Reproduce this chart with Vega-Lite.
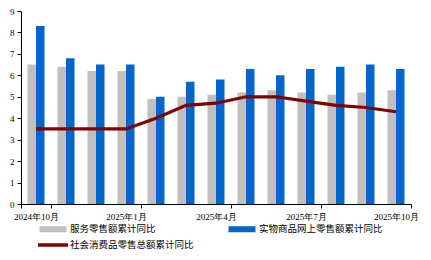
{
  "$schema": "https://vega.github.io/schema/vega-lite/v6.json",
  "width": 390,
  "height": 193,
  "autosize": {"type": "none"},
  "padding": {"left": 21, "top": 11, "right": 20, "bottom": 56},
  "background": "white",
  "config": {"view": {"stroke": null}},
  "data": {"values": [
    {"month": "2024年10月", "series": "服务零售额累计同比", "value": 6.5},
    {"month": "2024年11月", "series": "服务零售额累计同比", "value": 6.4},
    {"month": "2024年12月", "series": "服务零售额累计同比", "value": 6.2},
    {"month": "2025年1月", "series": "服务零售额累计同比", "value": 6.2},
    {"month": "2025年2月", "series": "服务零售额累计同比", "value": 4.9},
    {"month": "2025年3月", "series": "服务零售额累计同比", "value": 5.0},
    {"month": "2025年4月", "series": "服务零售额累计同比", "value": 5.1},
    {"month": "2025年5月", "series": "服务零售额累计同比", "value": 5.2},
    {"month": "2025年6月", "series": "服务零售额累计同比", "value": 5.3},
    {"month": "2025年7月", "series": "服务零售额累计同比", "value": 5.2},
    {"month": "2025年8月", "series": "服务零售额累计同比", "value": 5.1},
    {"month": "2025年9月", "series": "服务零售额累计同比", "value": 5.2},
    {"month": "2025年10月", "series": "服务零售额累计同比", "value": 5.3},
    {"month": "2024年10月", "series": "实物商品网上零售额累计同比", "value": 8.3},
    {"month": "2024年11月", "series": "实物商品网上零售额累计同比", "value": 6.8},
    {"month": "2024年12月", "series": "实物商品网上零售额累计同比", "value": 6.5},
    {"month": "2025年1月", "series": "实物商品网上零售额累计同比", "value": 6.5},
    {"month": "2025年2月", "series": "实物商品网上零售额累计同比", "value": 5.0},
    {"month": "2025年3月", "series": "实物商品网上零售额累计同比", "value": 5.7},
    {"month": "2025年4月", "series": "实物商品网上零售额累计同比", "value": 5.8},
    {"month": "2025年5月", "series": "实物商品网上零售额累计同比", "value": 6.3},
    {"month": "2025年6月", "series": "实物商品网上零售额累计同比", "value": 6.0},
    {"month": "2025年7月", "series": "实物商品网上零售额累计同比", "value": 6.3},
    {"month": "2025年8月", "series": "实物商品网上零售额累计同比", "value": 6.4},
    {"month": "2025年9月", "series": "实物商品网上零售额累计同比", "value": 6.5},
    {"month": "2025年10月", "series": "实物商品网上零售额累计同比", "value": 6.3},
    {"month": "2024年10月", "series": "社会消费品零售总额累计同比", "value": 3.5},
    {"month": "2024年11月", "series": "社会消费品零售总额累计同比", "value": 3.5},
    {"month": "2024年12月", "series": "社会消费品零售总额累计同比", "value": 3.5},
    {"month": "2025年1月", "series": "社会消费品零售总额累计同比", "value": 3.5},
    {"month": "2025年2月", "series": "社会消费品零售总额累计同比", "value": 4.0},
    {"month": "2025年3月", "series": "社会消费品零售总额累计同比", "value": 4.6},
    {"month": "2025年4月", "series": "社会消费品零售总额累计同比", "value": 4.7},
    {"month": "2025年5月", "series": "社会消费品零售总额累计同比", "value": 5.0},
    {"month": "2025年6月", "series": "社会消费品零售总额累计同比", "value": 5.0},
    {"month": "2025年7月", "series": "社会消费品零售总额累计同比", "value": 4.8},
    {"month": "2025年8月", "series": "社会消费品零售总额累计同比", "value": 4.6},
    {"month": "2025年9月", "series": "社会消费品零售总额累计同比", "value": 4.5},
    {"month": "2025年10月", "series": "社会消费品零售总额累计同比", "value": 4.3}
  ]},
  "encoding": {
    "x": {
      "field": "month", "type": "nominal", "sort": null,
      "scale": {"paddingInner": 0, "paddingOuter": 0},
      "axis": {
        "title": null,
        "values": ["2024年10月", "2025年1月", "2025年4月", "2025年7月", "2025年10月"],
        "tickBand": "extent",
        "labelAngle": 0,
        "labelFont": "Liberation Serif",
        "labelFontSize": 9,
        "labelColor": "#000000",
        "labelPadding": 4,
        "tickSize": 4,
        "tickColor": "#000000",
        "domainColor": "#000000",
        "domainWidth": 1,
        "grid": false
      }
    },
    "y": {
      "field": "value", "type": "quantitative",
      "scale": {"domain": [0, 9], "nice": false},
      "axis": {
        "title": null,
        "values": [0, 1, 2, 3, 4, 5, 6, 7, 8, 9],
        "labelFont": "Liberation Serif",
        "labelFontSize": 9,
        "labelColor": "#000000",
        "labelPadding": 3,
        "tickSize": 4,
        "tickColor": "#000000",
        "domainColor": "#000000",
        "grid": false
      }
    },
    "color": {
      "field": "series", "type": "nominal",
      "scale": {
        "domain": ["服务零售额累计同比", "实物商品网上零售额累计同比", "社会消费品零售总额累计同比"],
        "range": ["#C0C0C0", "#0066CC", "#800000"]
      },
      "legend": {
        "orient": "none",
        "direction": "horizontal",
        "legendX": 27,
        "legendY": 213,
        "columns": 2,
        "columnPadding": 34,
        "rowPadding": 6,
        "title": null,
        "padding": 0,
        "symbolSize": 100,
        "symbolType": "square",
        "symbolStrokeWidth": 0,
        "labelOffset": 12,
        "labelFont": "Noto Sans CJK SC",
        "labelFontSize": 9.5,
        "labelColor": "#000000",
        "labelLimit": 300,
        "encode": {
          "symbols": {
            "update": {
              "shape": {"signal": "datum.value === '社会消费品零售总额累计同比' ? 'M-3,-0.35H3V0.35H-3Z' : 'M-2.7,-0.6H2.7V0.6H-2.7Z'"}
            }
          }
        }
      }
    }
  },
  "layer": [
    {
      "transform": [{"filter": "datum.series !== '社会消费品零售总额累计同比'"}],
      "mark": {"type": "bar"},
      "encoding": {
        "xOffset": {
          "field": "series", "type": "nominal",
          "sort": ["服务零售额累计同比", "实物商品网上零售额累计同比"],
          "scale": {"paddingInner": 0, "paddingOuter": 0.765}
        }
      }
    },
    {
      "transform": [{"filter": "datum.series === '社会消费品零售总额累计同比'"}],
      "mark": {"type": "line", "strokeWidth": 3.2}
    }
  ]
}
